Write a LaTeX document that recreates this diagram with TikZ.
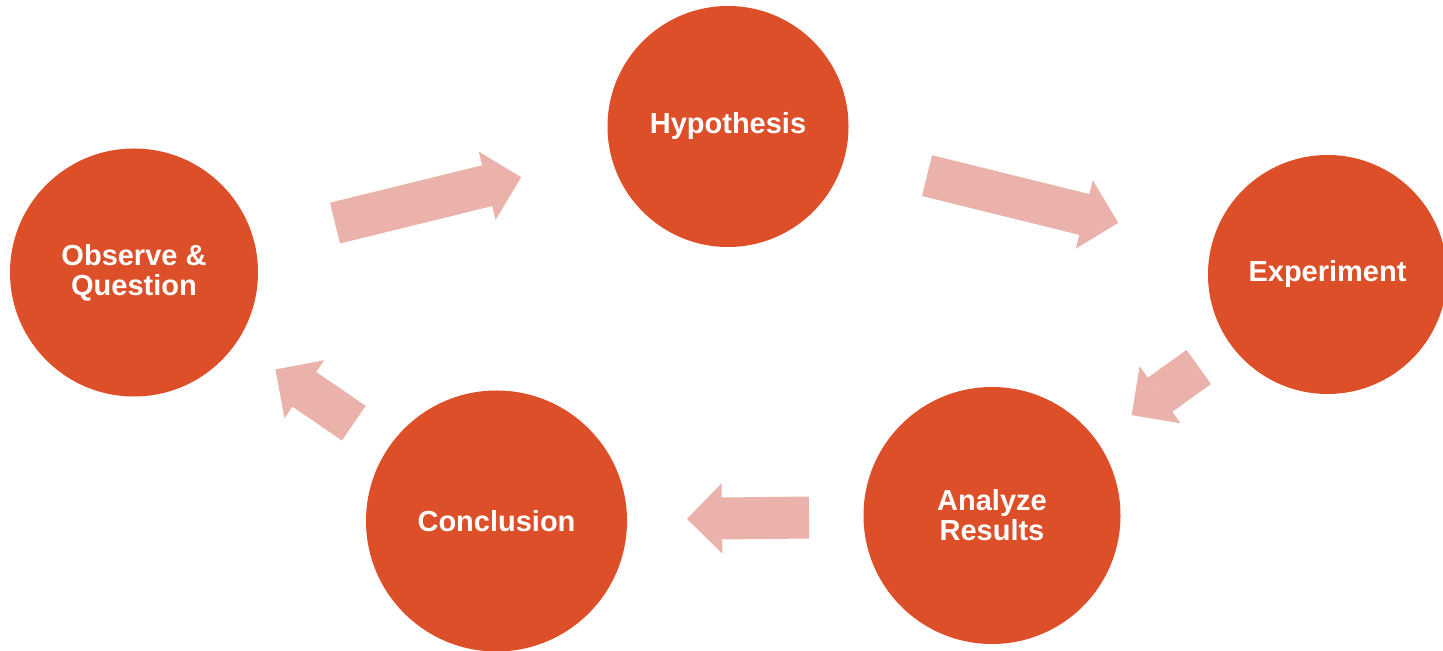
\documentclass[tikz,border=0pt]{standalone}
\usepackage{fontspec}
\setmainfont{Liberation Sans}
\usetikzlibrary{arrows.meta}
\definecolor{CycleRed}{HTML}{DD4F29}
\definecolor{CyclePink}{HTML}{EBB2AB}
\tikzset{
  steplabel/.style={font=\bfseries\fontsize{16.5}{17}\selectfont, text=white, align=center},
  stepcircle/.style={circle, fill=CycleRed, inner sep=0pt, outer sep=0pt, steplabel},
  cyclearrow/.style={draw=CyclePink, line width=0.84cm, -{Triangle[length=0.7cm, width=1.4cm, line width=1pt]}}
}
\begin{document}
\begin{tikzpicture}
\useasboundingbox (0,0) rectangle (28.86,13.02);
% steps of the cycle
\node[stepcircle, minimum size=4.96cm] (observe) at (2.68,7.57) {Observe \&\\Question};
\node[stepcircle, minimum size=4.82cm] (hypo) at (14.56,10.49) {Hypothesis};
\node[stepcircle, minimum size=4.78cm] (exper) at (26.55,7.53) {Experiment};
\node[stepcircle, minimum size=5.14cm] (analyze) at (19.84,2.71) {Analyze\\Results};
\node[stepcircle, minimum size=5.22cm] (concl) at (9.93,2.60) {Conclusion};
% block arrows between steps
\draw[cyclearrow, shorten <=1.66cm, shorten >=1.85cm] (observe) -- (hypo);
\draw[cyclearrow, shorten <=1.69cm, shorten >=1.92cm] (hypo) -- (exper);
\draw[cyclearrow, shorten <=0.78cm, shorten >=0.87cm] (exper) -- (analyze);
\draw[cyclearrow, shorten <=1.09cm, shorten >=1.20cm] (analyze) -- (concl);
\draw[cyclearrow, shorten <=0.85cm, shorten >=0.95cm] (concl) -- (observe);
\end{tikzpicture}
\end{document}
